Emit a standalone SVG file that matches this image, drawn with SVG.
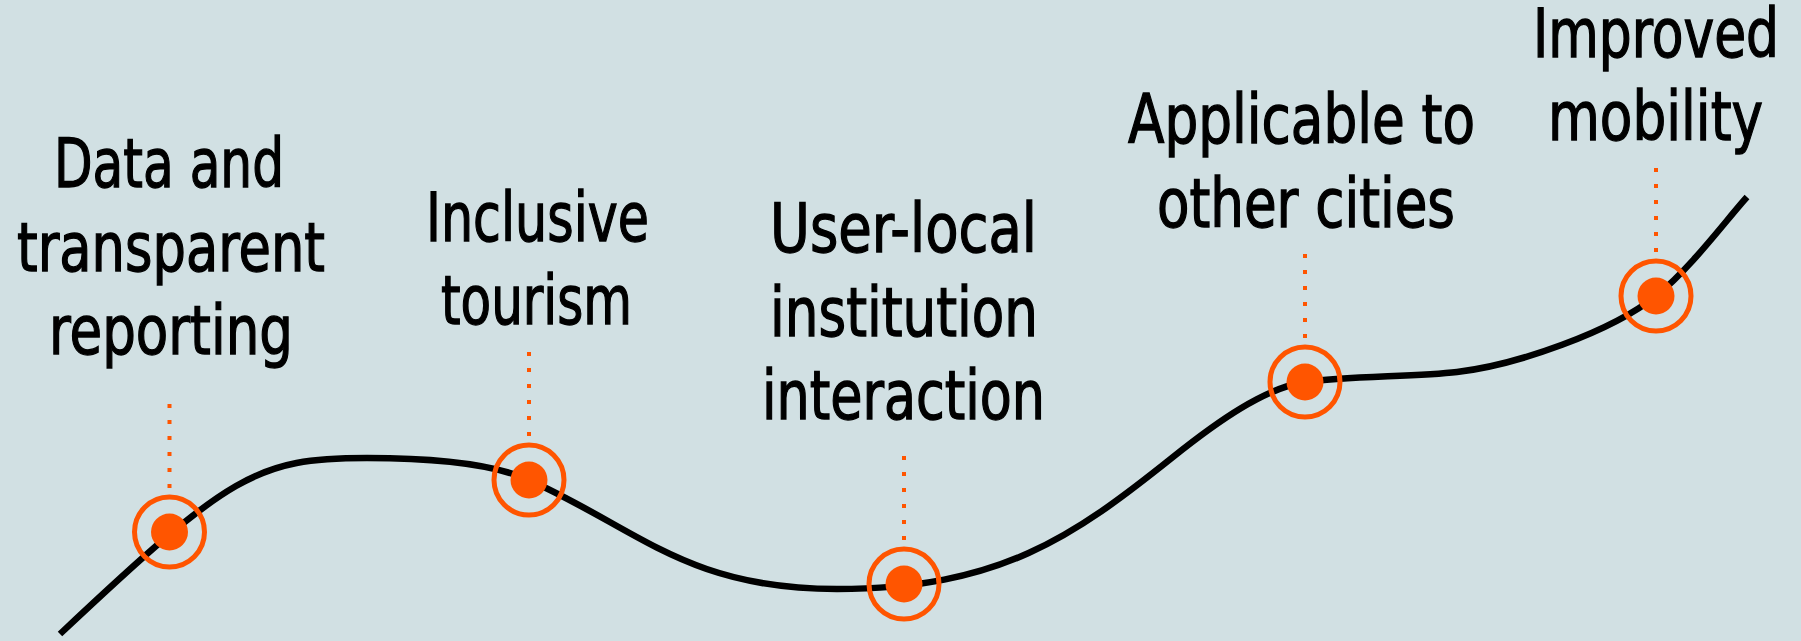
<svg xmlns="http://www.w3.org/2000/svg" width="1801" height="641" viewBox="0 0 1801 641">
  <style>
    .lbl { font-family: "DejaVu Sans Condensed", "Liberation Sans", sans-serif; font-size: 68px; fill: #000000; stroke: #000000; stroke-width: 1.3; text-anchor: middle; }
    .ring { fill: none; stroke: #FF5500; stroke-width: 5; }
    .dot { fill: #FF5500; }
    .lead { stroke: #FF5500; stroke-width: 4; stroke-dasharray: 4 12; fill: none; }
    .curve { fill: none; stroke: #000000; stroke-width: 6.5; stroke-linecap: butt; stroke-linejoin: round; }
  </style>
  <rect x="0" y="0" width="1801" height="641" fill="#D1E0E3"/>

  <g id="connectors">
    <path class="curve" d="M60,634 C230,474 257,458 367,458 C427,458 489,462 529,480 C639,529.5 687,589 837,589 C1000,589 1073,537 1173,457 C1218,421 1265,388 1305,382 C1345,376 1417,376.8 1457,372 C1517,364.8 1611,332 1656,296 C1691,268 1727,219 1747,197"/>
    <line class="lead" x1="169.5" y1="404" x2="169.5" y2="490"/>
    <line class="lead" x1="529" y1="352" x2="529" y2="438"/>
    <line class="lead" x1="904" y1="456" x2="904" y2="542"/>
    <line class="lead" x1="1305" y1="254" x2="1305" y2="340"/>
    <line class="lead" x1="1656" y1="168" x2="1656" y2="254"/>
  </g>

  <g id="node-data">
    <circle class="ring" cx="169.5" cy="532" r="35"/>
    <circle class="dot" cx="169.5" cy="532" r="18.5"/>
    <text class="lbl" x="169" y="187" textLength="230" lengthAdjust="spacingAndGlyphs">Data and</text>
    <text class="lbl" x="171" y="270.5" textLength="308" lengthAdjust="spacingAndGlyphs">transparent</text>
    <text class="lbl" x="171" y="354" textLength="244" lengthAdjust="spacingAndGlyphs">reporting</text>
  </g>

  <g id="node-tourism">
    <circle class="ring" cx="529" cy="480" r="35"/>
    <circle class="dot" cx="529" cy="480" r="18.5"/>
    <text class="lbl" x="537.5" y="241" textLength="223" lengthAdjust="spacingAndGlyphs">Inclusive</text>
    <text class="lbl" x="536.5" y="324" textLength="191" lengthAdjust="spacingAndGlyphs">tourism</text>
  </g>

  <g id="node-interaction">
    <circle class="ring" cx="904" cy="584" r="35"/>
    <circle class="dot" cx="904" cy="584" r="18.5"/>
    <text class="lbl" x="903.5" y="252" textLength="267" lengthAdjust="spacingAndGlyphs">User-local</text>
    <text class="lbl" x="904" y="335.5" textLength="268" lengthAdjust="spacingAndGlyphs">institution</text>
    <text class="lbl" x="903.5" y="419" textLength="283" lengthAdjust="spacingAndGlyphs">interaction</text>
  </g>

  <g id="node-cities">
    <circle class="ring" cx="1305" cy="382" r="35"/>
    <circle class="dot" cx="1305" cy="382" r="18.5"/>
    <text class="lbl" x="1301.5" y="143" textLength="347" lengthAdjust="spacingAndGlyphs">Applicable to</text>
    <text class="lbl" x="1306" y="226.5" textLength="298" lengthAdjust="spacingAndGlyphs">other cities</text>
  </g>

  <g id="node-mobility">
    <circle class="ring" cx="1656" cy="296" r="35"/>
    <circle class="dot" cx="1656" cy="296" r="18.5"/>
    <text class="lbl" x="1656" y="57" textLength="246" lengthAdjust="spacingAndGlyphs">Improved</text>
    <text class="lbl" x="1655.5" y="139.5" textLength="215" lengthAdjust="spacingAndGlyphs">mobility</text>
  </g>
</svg>
